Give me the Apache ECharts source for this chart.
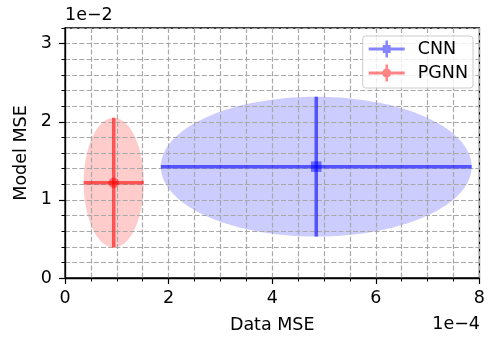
<!DOCTYPE html>
<html><head><meta charset="utf-8">
<script src="https://cdn.jsdelivr.net/npm/echarts@6/dist/echarts.min.js"></script>
<style>html,body{margin:0;padding:0;background:#fff}#c{width:488px;height:344px}</style>
</head><body><div id="c"></div><script>
// Values in displayed units: Data MSE ×1e-4, Model MSE ×1e-2
const models = ['CNN', 'PGNN'];
const dataMSE = [4.85, 0.94];
const dataMSEErr = [3.0, 0.58];
const modelMSE = [1.425, 1.22];
const modelMSEErr = [0.895, 0.83];
const xMajorTicks = [0, 2, 4, 6, 8];
const yMajorTicks = [0, 1, 2, 3];
const xScaleLabel = '1e\u22124';
const yScaleLabel = '1e\u22122';
const xName = 'Data MSE';
const yName = 'Model MSE';

const rgb = ['0,0,255', '255,0,0'];
const symbols = ['rect', 'circle'];
const FONT = 'DejaVu Sans';
const FS = 17.5;

const chart = echarts.init(document.getElementById('c'), null, {renderer: 'canvas'});

const rows = models.map((m, i) => [dataMSE[i], modelMSE[i], dataMSEErr[i], modelMSEErr[i], i]);

const gridLine = {show: true, lineStyle: {color: '#a8a8a8', width: 1.2, type: [5, 2.2]}};
const axisLine = {show: true, lineStyle: {color: '#000', width: 1.3}};

const legendIcons = [
  'path://M0 7H36V10H0Z M16.75 0H19.25V17H16.75Z M14 4.5H22V12.5H14Z',
  'path://M0 7H36V10H0Z M16.75 0H19.25V17H16.75Z M13.5 8.5A4.5 4.5 0 1 1 22.5 8.5A4.5 4.5 0 1 1 13.5 8.5Z'
];

const option = {
  animation: false,
  textStyle: {fontFamily: FONT},
  grid: {left: 65, right: 7, top: 28, bottom: 66, show: true, borderColor: '#000', borderWidth: 1.3, backgroundColor: 'transparent'},
  xAxis: [
    {type: 'value', min: 0, max: 8, interval: 0.5, position: 'bottom',
     axisLine: axisLine, axisTick: {show: true, length: 3.5, lineStyle: {color: '#000', width: 1}},
     axisLabel: {show: false}, splitLine: gridLine},
    {type: 'value', min: 0, max: 8, interval: 2, position: 'bottom',
     axisLine: {show: false}, axisTick: {show: true, length: 6, lineStyle: {color: '#000', width: 1.2}},
     axisLabel: {show: true, fontSize: FS, color: '#000', margin: 11, fontFamily: FONT,
                 customValues: xMajorTicks},
     splitLine: {show: false},
     name: xName, nameLocation: 'middle', nameGap: 38,
     nameTextStyle: {fontSize: FS, color: '#000', fontFamily: FONT}}
  ],
  yAxis: [
    {type: 'value', min: 0, max: 3.2, interval: 0.2, position: 'left',
     axisLine: axisLine, axisTick: {show: true, length: 3.5, lineStyle: {color: '#000', width: 1}},
     axisLabel: {show: false}, splitLine: gridLine},
    {type: 'value', min: 0, max: 3.2, interval: 1, position: 'left',
     axisLine: {show: false},
     axisTick: {show: true, length: 6, lineStyle: {color: '#000', width: 1.2}, customValues: yMajorTicks},
     axisLabel: {show: true, fontSize: FS, color: '#000', margin: 13, fontFamily: FONT, customValues: yMajorTicks},
     splitLine: {show: false},
     name: yName, nameLocation: 'middle', nameGap: 33, nameRotate: 90,
     nameTextStyle: {fontSize: FS, color: '#000', fontFamily: FONT}}
  ],
  legend: {
    orient: 'vertical', right: 15, top: 36,
    padding: [4, 5, 6, 6],
    itemWidth: 36, itemHeight: 17, itemGap: 6,
    borderColor: '#cccccc', borderWidth: 1, borderRadius: 3,
    backgroundColor: 'rgba(255,255,255,0.8)',
    selectedMode: false,
    textStyle: {fontSize: FS, color: '#000', fontFamily: FONT, padding: [0, 0, 0, 8]},
    data: models.map((m, i) => ({name: m, icon: legendIcons[i], itemStyle: {color: 'rgba(' + rgb[i] + ',0.6)'}}))
  },
  graphic: [
    {type: 'text', left: 65, top: 6, style: {text: yScaleLabel, font: FS + 'px "DejaVu Sans"', fill: '#000'}},
    {type: 'text', right: 8, top: 315, style: {text: xScaleLabel, font: FS + 'px "DejaVu Sans"', fill: '#000'}}
  ],
  series: [
    {
      type: 'custom', name: 'ellipses', z: -1, xAxisIndex: 0, yAxisIndex: 0,
      data: rows, encode: {x: 0, y: 1},
      renderItem: function (params, api) {
        const cx = api.value(0), cy = api.value(1), rx = api.value(2), ry = api.value(3), k = api.value(4);
        const pts = [];
        for (let j = 0; j < 120; j++) {
          const t = j / 120 * 2 * Math.PI;
          pts.push(api.coord([cx + rx * Math.cos(t), cy + ry * Math.sin(t)]));
        }
        return {type: 'polygon', shape: {points: pts}, style: {fill: 'rgba(' + rgb[k] + ',0.2)', stroke: null}};
      },
      silent: true
    },
    {
      type: 'custom', name: 'errorbars', z: 3, xAxisIndex: 0, yAxisIndex: 0,
      data: rows, encode: {x: 0, y: 1},
      renderItem: function (params, api) {
        const cx = api.value(0), cy = api.value(1), ex = api.value(2), ey = api.value(3), k = api.value(4);
        const st = {stroke: 'rgba(' + rgb[k] + ',0.6)', lineWidth: 3.5, fill: null};
        const h0 = api.coord([cx - ex, cy]), h1 = api.coord([cx + ex, cy]);
        const v0 = api.coord([cx, cy - ey]), v1 = api.coord([cx, cy + ey]);
        return {type: 'group', children: [
          {type: 'line', shape: {x1: h0[0], y1: h0[1], x2: h1[0], y2: h1[1]}, style: st},
          {type: 'line', shape: {x1: v0[0], y1: v0[1], x2: v1[0], y2: v1[1]}, style: st}
        ]};
      },
      silent: true
    }
  ].concat(models.map((m, i) => ({
    type: 'scatter', name: m, z: 4, xAxisIndex: 0, yAxisIndex: 0,
    symbol: symbols[i], symbolSize: i === 0 ? 10.5 : 10.5,
    itemStyle: {color: 'rgba(' + rgb[i] + ',0.6)'},
    data: [[dataMSE[i], modelMSE[i]]],
    silent: true
  })))
};
chart.setOption(option);
</script></body></html>
